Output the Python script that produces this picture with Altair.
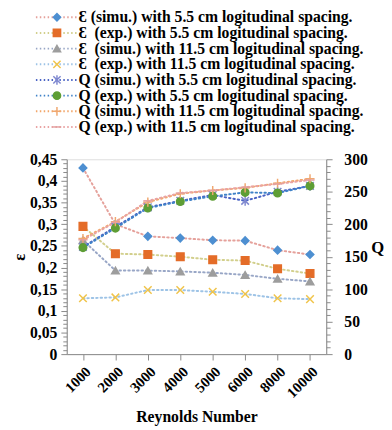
import altair as alt
import pandas as pd

reynolds = ["1000", "2000", "3000", "4000", "5000", "6000", "8000", "10000"]

names = [
    "Ɛ (simu.) with 5.5 cm logitudinal spacing.",
    "Ɛ\u00a0 (exp.) with 5.5 cm logitudinal spacing.",
    "Ɛ\u00a0 (simu.) with 11.5 cm logitudinal spacing.",
    "Ɛ\u00a0 (exp.) with 11.5 cm logitudinal spacing.",
    "Q (simu.) with 5.5 cm logitudinal spacing.",
    "Q (exp.) with 5.5 cm logitudinal spacing.",
    "Q (simu.) with 11.5 cm logitudinal spacing.",
    "Q (exp.) with 11.5 cm logitudinal spacing.",
]

eps_simu_55 = [0.430, 0.300, 0.272, 0.268, 0.263, 0.262, 0.240, 0.230]
eps_exp_55 = [0.295, 0.232, 0.230, 0.225, 0.218, 0.216, 0.197, 0.186]
eps_simu_115 = [0.263, 0.193, 0.193, 0.191, 0.188, 0.183, 0.174, 0.168]
eps_exp_115 = [0.129, 0.131, 0.148, 0.148, 0.144, 0.139, 0.129, 0.127]
q_simu_55 = [165, 196, 226, 236, 245, 236, 250, 259]
q_exp_55 = [164, 194, 225, 235, 243, 249, 248, 259]
q_simu_115 = [178, 204, 234, 247, 252, 256, 263, 270]
q_exp_115 = [176, 203, 236, 248, 252, 257, 262, 268]

line_colors = ["#E5A19B", "#D2CF8C", "#98A6C6", "#9DC3E6",
               "#4A63C4", "#3F82C8", "#F2A66A", "#E9A3A3"]
marker_colors = ["#4D8FD1", "#E46C28", "#9D9D9D", "#F0C44A",
                 "#7F88D0", "#5E9E35", "#F0A870", "#E3A0A0"]
shapes = [
    "diamond", "square", "triangle-up",
    "M-1,-1L1,1M-1,1L1,-1",
    "M-1,-1L1,1M-1,1L1,-1M0,-1.3L0,1.3",
    "circle",
    "M-1.2,0L1.2,0M0,-1.2L0,1.2",
    "M-1.2,0L1.2,0",
]
line_keys = ["l1", "l2", "l3", "l4", "l5", "l6", "l7", "l8"]

FONT = "'Liberation Serif', 'Times New Roman', serif"

def frame(series_idx, values_list):
    rows = []
    for i, vals in zip(series_idx, values_list):
        for re, v in zip(reynolds, vals):
            rows.append({"Re": re, "v": v, "series": names[i], "lkey": line_keys[i]})
    return pd.DataFrame(rows)

eps_df = frame([0, 1, 2, 3], [eps_simu_55, eps_exp_55, eps_simu_115, eps_exp_115])
q_df = frame([4, 5, 6, 7], [q_simu_55, q_exp_55, q_simu_115, q_exp_115])

x_enc = alt.X(
    "Re:O", sort=reynolds,
    scale=alt.Scale(type="point", padding=0.5),
    axis=alt.Axis(title="Reynolds Number", labelAngle=-45, labelFontSize=15,
                  labelFont=FONT, labelFontWeight="bold", labelColor="#000",
                  titleFont=FONT, titleFontWeight="bold", titleFontSize=16,
                  titleColor="#000", titlePadding=9, tickSize=6,
                  domainColor="#888", tickColor="#888", labelPadding=4,
                  grid=False),
)

eps_vals = [round(i * 0.01, 2) for i in range(46)]
q_vals = list(range(0, 301, 10))

major_eps = "abs(round(datum.value*20) - datum.value*20) < 0.001"
major_q = "datum.value % 50 == 0"

eps_axis = alt.Axis(
    orient="left", values=eps_vals, title="ε", titleFont=FONT,
    titleFontWeight="bold", titleFontSize=17, titleColor="#000", titlePadding=1,
    labelExpr=f"{major_eps} ? replace(format(datum.value, '.2~f'), '.', ',') : ''",
    labelFont=FONT, labelFontWeight="bold", labelFontSize=16, labelColor="#000",
    tickSize={"condition": {"test": major_eps, "value": 6}, "value": 4},
    domainColor="#888", tickColor="#888", grid=False, labelPadding=4,
)
q_axis = alt.Axis(
    orient="right", values=q_vals, title="Q", titleFont=FONT,
    titleFontWeight="bold", titleFontSize=17, titleColor="#000",
    titleAngle=0, titlePadding=10,
    labelExpr=f"{major_q} ? datum.value : ''",
    labelFont=FONT, labelFontWeight="bold", labelFontSize=16, labelColor="#000",
    tickSize={"condition": {"test": major_q, "value": 6}, "value": 4},
    domainColor="#888", tickColor="#888", grid=False, labelPadding=12,
)

LEG_X = -18
LEG_Y = -153
line_legend = alt.Legend(
    title=None, orient="none", legendX=LEG_X, legendY=LEG_Y, padding=0,
    symbolType="M-5.8,0H5.8", symbolSize=55, symbolStrokeWidth=2,
    symbolDash=[1.5, 2.5], labelExpr="''", labelFontSize=16, labelFont=FONT,
    labelFontWeight="bold", labelLimit=400, rowPadding=0, labelOffset=14,
)
marker_legend = alt.Legend(
    title=None, orient="none", legendX=LEG_X, legendY=LEG_Y, padding=0,
    symbolSize=55, symbolStrokeWidth=1.5, labelFontSize=16, labelFont=FONT,
    labelFontWeight="bold", labelColor="#000", labelLimit=400, rowPadding=0,
    labelOffset=14,
)

color_enc = alt.Color("lkey:N", scale=alt.Scale(domain=line_keys, range=line_colors),
                      legend=line_legend)
fill_enc = alt.Fill("series:N", scale=alt.Scale(domain=names, range=marker_colors),
                    legend=marker_legend)
stroke_enc = alt.Stroke("series:N", scale=alt.Scale(domain=names, range=marker_colors),
                        legend=marker_legend)
shape_enc = alt.Shape("series:N", scale=alt.Scale(domain=names, range=shapes),
                      legend=marker_legend)

def sub_layer(df, y_field_axis, domain):
    y_enc = alt.Y("v:Q", scale=alt.Scale(domain=domain, nice=False, zero=True),
                  axis=y_field_axis)
    base = alt.Chart(df)
    lines = base.mark_line(strokeDash=[1.5, 3], strokeWidth=2, strokeCap="round").encode(
        x=x_enc, y=y_enc, color=color_enc, detail="series:N")
    points = base.mark_point(filled=True, size=60, strokeWidth=1.5, opacity=1).encode(
        x=x_enc, y=y_enc, fill=fill_enc, stroke=stroke_enc, shape=shape_enc)
    return alt.layer(lines, points)

eps_layer = sub_layer(eps_df, eps_axis, [0, 0.45])
q_layer = sub_layer(q_df, q_axis, [0, 300])

chart = alt.layer(eps_layer, q_layer).resolve_scale(y="independent").properties(
    width=265, height=199,
    autosize=alt.AutoSizeParams(type="none"),
    padding={"left": 60, "top": 150, "right": 59, "bottom": 73},
).configure_view(stroke=None).configure(background="white")

chart.save("out.html", embed_options={"renderer": "svg", "actions": False})
